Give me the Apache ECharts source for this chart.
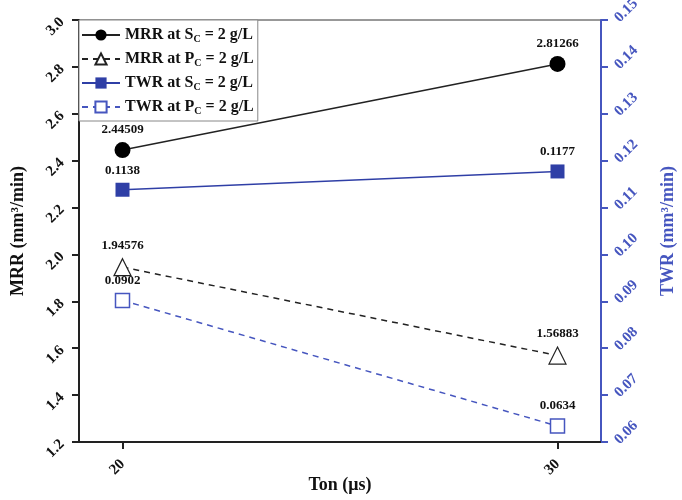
<!DOCTYPE html>
<html>
<head>
<meta charset="utf-8">
<script src="https://cdn.jsdelivr.net/npm/echarts@6/dist/echarts.min.js"></script>
<style>
  html, body { margin: 0; padding: 0; background: #fff; }
  #main { width: 682px; height: 500px; }
</style>
</head>
<body>
<div id="main"></div>
<script>
// data
var ton = [20, 30];
var mrrSc = [2.44509, 2.81266];
var mrrPc = [1.94576, 1.56883];
var twrSc = [0.1138, 0.1177];
var twrPc = [0.0902, 0.0634];
var mrrLabels = ['1.2', '1.4', '1.6', '1.8', '2.0', '2.2', '2.4', '2.6', '2.8', '3.0'];

var blue = '#2f3fa6';
var axisBlue = '#4656bf';
var font = '"Liberation Serif", "Times New Roman", serif';

function pairs(vals) {
  return ton.map(function (t, i) { return [t, vals[i]]; });
}

var labelStyle = {
  show: true,
  position: 'top',
  distance: 6,
  fontFamily: font,
  fontWeight: 'bold',
  fontSize: 13,
  color: '#111',
  formatter: function (p) { return String(p.value[1]); }
};

var chart = echarts.init(document.getElementById('main'));

var option = {
  backgroundColor: '#fff',
  animation: false,
  textStyle: { fontFamily: font },
  grid: {
    left: 79, right: 81, top: 20, bottom: 58,
    outerBoundsMode: 'none',
    show: true, borderColor: '#333', borderWidth: 1
  },
  legend: {
    orient: 'vertical',
    left: 79, top: 20,
    padding: [5, 4, 4, 2],
    itemGap: 4,
    itemWidth: 38,
    itemHeight: 14,
    borderColor: '#888',
    borderWidth: 1,
    backgroundColor: '#fff',
    textStyle: {
      fontFamily: font, fontWeight: 'bold', fontSize: 16, color: '#111', lineHeight: 20,
      rich: {
        a: { fontFamily: font, fontWeight: 'bold', fontSize: 16, color: '#111', lineHeight: 20 },
        s: { fontFamily: font, fontWeight: 'bold', fontSize: 10, color: '#111', lineHeight: 20, padding: [8, 0, 0, 0] }
      }
    },
    formatter: function (name) {
      var m = name.match(/^(.*) (S|P)_C(.*)$/);
      return '{a|' + m[1] + ' ' + m[2] + '}{s|C}{a|' + m[3] + '}';
    },
    data: ['MRR at S_C = 2 g/L', 'MRR at P_C = 2 g/L', 'TWR at S_C = 2 g/L', 'TWR at P_C = 2 g/L']
  },
  xAxis: {
    type: 'value',
    min: 19,
    max: 31,
    name: 'Ton (\u03bcs)',
    nameLocation: 'middle',
    nameGap: 34,
    nameMoveOverlap: false,
    nameTextStyle: { fontFamily: font, fontWeight: 'bold', fontSize: 18, color: '#111' },
    splitLine: { show: false },
    axisLine: { lineStyle: { color: '#222', width: 2 } },
    axisTick: { show: true, customValues: ton, length: 7, lineStyle: { color: '#222', width: 2 } },
    axisLabel: {
      customValues: ton, rotate: 45, margin: 20,
      fontFamily: font, fontWeight: 'bold', fontSize: 15, color: '#111'
    }
  },
  yAxis: [{
    type: 'value',
    min: 1.2, max: 3.0, interval: 0.2,
    name: 'MRR (mm\u00b3/min)',
    nameLocation: 'middle',
    nameGap: 52,
    nameMoveOverlap: false,
    nameRotate: 90,
    nameTextStyle: { fontFamily: font, fontWeight: 'bold', fontSize: 18, color: '#111' },
    splitLine: { show: false },
    axisLine: { show: true, lineStyle: { color: '#222', width: 2 } },
    axisTick: { show: true, length: 7, lineStyle: { color: '#222', width: 2 } },
    axisLabel: {
      rotate: 45, margin: 17,
      fontFamily: font, fontWeight: 'bold', fontSize: 15, color: '#111',
      formatter: function (v) { return mrrLabels[Math.round((v - 1.2) / 0.2)] || v.toFixed(1); }
    }
  }, {
    type: 'value',
    position: 'right',
    min: 0.06, max: 0.15, interval: 0.01,
    name: 'TWR (mm\u00b3/min)',
    nameLocation: 'middle',
    nameGap: 58,
    nameMoveOverlap: false,
    nameRotate: 90,
    nameTextStyle: { fontFamily: font, fontWeight: 'bold', fontSize: 18, color: axisBlue },
    splitLine: { show: false },
    axisLine: { show: true, lineStyle: { color: axisBlue, width: 2 } },
    axisTick: { show: true, length: 7, lineStyle: { color: axisBlue, width: 2 } },
    axisLabel: {
      rotate: 45, margin: 16,
      fontFamily: font, fontWeight: 'bold', fontSize: 15, color: axisBlue,
      formatter: function (v) { return v.toFixed(2); }
    }
  }],
  series: [{
    name: 'MRR at S_C = 2 g/L',
    type: 'line',
    yAxisIndex: 0,
    data: pairs(mrrSc),
    symbol: 'circle',
    symbolSize: 16,
    itemStyle: { color: '#000' },
    lineStyle: { color: '#222', width: 1.5 },
    label: labelStyle
  }, {
    name: 'MRR at P_C = 2 g/L',
    type: 'line',
    yAxisIndex: 0,
    data: pairs(mrrPc),
    symbol: 'triangle',
    symbolSize: 17,
    itemStyle: { color: '#fff', borderColor: '#222', borderWidth: 1.2 },
    lineStyle: { color: '#222', width: 1.5, type: [6, 5] },
    label: labelStyle
  }, {
    name: 'TWR at S_C = 2 g/L',
    type: 'line',
    yAxisIndex: 1,
    data: pairs(twrSc),
    symbol: 'rect',
    symbolSize: 14,
    itemStyle: { color: blue },
    lineStyle: { color: blue, width: 1.5 },
    label: labelStyle
  }, {
    name: 'TWR at P_C = 2 g/L',
    type: 'line',
    yAxisIndex: 1,
    data: pairs(twrPc),
    symbol: 'rect',
    symbolSize: 14,
    itemStyle: { color: '#fff', borderColor: axisBlue, borderWidth: 1.5 },
    lineStyle: { color: axisBlue, width: 1.5, type: [6, 5] },
    label: labelStyle
  }]
};

chart.setOption(option);
</script>
</body>
</html>
